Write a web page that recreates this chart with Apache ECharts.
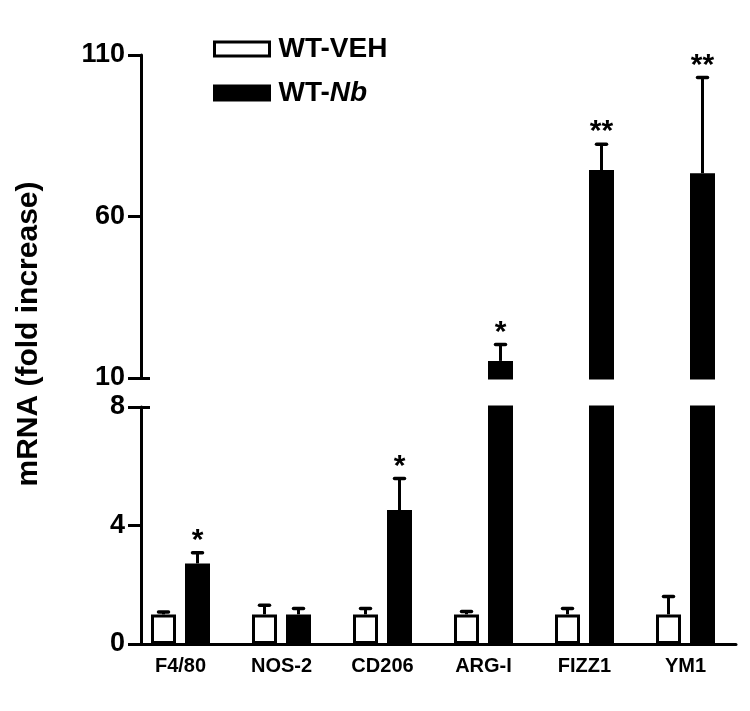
<!DOCTYPE html>
<html>
<head>
<meta charset="utf-8">
<script src="https://cdn.jsdelivr.net/npm/echarts@6/dist/echarts.min.js"></script>
<style>
  html, body { margin: 0; padding: 0; background: #fff; }
  #chart { width: 750px; height: 711px; }
</style>
</head>
<body>
<div id="chart"></div>
<script>
// ---- data ----
const categories = ['F4/80', 'NOS-2', 'CD206', 'ARG-I', 'FIZZ1', 'YM1'];
const seriesNames = ['WT-VEH', 'WT-Nb'];
const vehMean = [1.0, 1.0, 1.0, 1.0, 1.0, 1.0];
const vehErr  = [0.08, 0.31, 0.2, 0.1, 0.2, 0.6];
const nbMean  = [2.72, 1.0, 4.52, 15.3, 74.4, 73.4];
const nbErr   = [0.36, 0.2, 1.07, 5.1, 8.0, 29.6];
const vehSig  = ['', '', '', '', '', ''];
const nbSig   = ['*', '', '*', '*', '**', '**'];
const lowerTicks = [0, 4, 8];      // lower segment
const upperTicks = [10, 60, 110];  // upper segment

// ---- layout/style ----
const FONT = "'Liberation Sans', Arial, sans-serif";
const BAR_W = 25;
const BAR_GAP = 0.36;
const GRID_LEFT = 130, GRID_RIGHT = 14;
const AXIS_SHIFT = -11;
const lowerMin = lowerTicks[0], lowerMax = lowerTicks[lowerTicks.length - 1];
const upperMin = upperTicks[0], upperMax = upperTicks[upperTicks.length - 1];

const chart = echarts.init(document.getElementById('chart'), null, { renderer: 'canvas' });

function barSeries(name, data, grid, fill, keep) {
  return {
    type: 'bar', name: name,
    xAxisIndex: grid, yAxisIndex: grid === 0 ? 0 : 2,
    data: data.map(v => keep(v) ? v : '-'),
    barWidth: BAR_W, barGap: Math.round(BAR_GAP * 100) + '%',
    itemStyle: { color: fill, borderColor: '#000', borderWidth: 3 },
    clip: true, z: 2,
    emphasis: { disabled: true }
  };
}

function errSeries(means, errs, sigs, side, grid, keep) {
  const data = [];
  means.forEach((m, i) => { if (keep(m)) data.push([i, m, errs[i], sigs[i]]); });
  const off = side * BAR_W * (1 + BAR_GAP) / 2;
  return {
    type: 'custom', name: 'err' + side + grid,
    xAxisIndex: grid, yAxisIndex: grid === 0 ? 0 : 2,
    clip: false, z: 5, silent: true,
    data: data,
    encode: { x: 0, y: 1 },
    renderItem: function (params, api) {
      const idx = api.value(0), m = api.value(1), e = api.value(2);
      const sig = data[params.dataIndex][3];
      const base = api.coord([idx, m]);
      const top = api.coord([idx, m + e]);
      const x = base[0] + off;
      const children = [
        { type: 'line', shape: { x1: x, y1: base[1], x2: x, y2: top[1] },
          style: { stroke: '#000', lineWidth: 3 } },
        { type: 'line', shape: { x1: x - 5, y1: top[1], x2: x + 5, y2: top[1] },
          style: { stroke: '#000', lineWidth: 3.5, lineCap: 'round' } }
      ];
      if (sig) {
        children.push({ type: 'text', x: x, y: top[1] - 12,
          style: { text: sig, font: 'bold 30px ' + FONT, fill: '#000',
                   align: 'center', verticalAlign: 'middle' } });
      }
      return { type: 'group', children: children };
    }
  };
}

const keepLower = v => true;            // lower grid clips at its max
const keepUpper = v => v > upperMin;

const option = {
  animation: false,
  backgroundColor: '#fff',
  legend: {
    data: seriesNames,
    orient: 'vertical',
    left: 213, top: 35,
    padding: 0,
    icon: 'rect',
    itemWidth: 55, itemHeight: 14, itemGap: 16,
    itemStyle: { borderColor: '#000', borderWidth: 3 },
    selectedMode: false,
    textStyle: { fontFamily: FONT, fontWeight: 'bold', fontSize: 28, lineHeight: 28, color: '#000',
                 padding: [0, 0, 0, 4],
                 rich: { i: { fontFamily: FONT, fontWeight: 'bold', fontStyle: 'italic', fontSize: 28, color: '#000' } } },
    formatter: function (name) { return name === 'WT-Nb' ? 'WT-{i|Nb}' : name; }
  },
  graphic: [{
    type: 'text', x: 29, y: 334, rotation: Math.PI / 2,
    style: { text: 'mRNA (fold increase)', font: 'bold 30px ' + FONT, fill: '#000',
             align: 'center', verticalAlign: 'middle' }
  }],
  grid: [
    { left: GRID_LEFT, right: GRID_RIGHT, top: 407, height: 237 },
    { left: GRID_LEFT, right: GRID_RIGHT, top: 55, height: 323 }
  ],
  xAxis: [
    { type: 'category', gridIndex: 0, data: categories,
      axisLine: { show: true, lineStyle: { color: '#000', width: 3 } },
      axisTick: { show: false },
      axisLabel: { color: '#000', fontFamily: FONT, fontWeight: 'bold', fontSize: 20, margin: 12 } },
    { type: 'category', gridIndex: 1, data: categories, show: false }
  ],
  yAxis: [
    { type: 'value', gridIndex: 0, position: 'left', min: lowerMin, max: lowerMax, interval: lowerTicks[1] - lowerTicks[0],
      offset: AXIS_SHIFT,
      axisLine: { show: true, lineStyle: { color: '#000', width: 3 } },
      axisTick: { show: true, length: 13, lineStyle: { color: '#000', width: 3 } },
      axisLabel: { color: '#000', fontFamily: FONT, fontWeight: 'bold', fontSize: 27, margin: 16 },
      splitLine: { show: false } },
    { type: 'value', gridIndex: 0, position: 'left', min: lowerMin, max: lowerMax, offset: AXIS_SHIFT,
      axisLine: { show: false }, axisLabel: { show: false }, splitLine: { show: false },
      axisTick: { show: true, inside: true, length: 9, customValues: [lowerMax],
                  lineStyle: { color: '#000', width: 3 } } },
    { type: 'value', gridIndex: 1, position: 'left', min: upperMin, max: upperMax, interval: upperTicks[1] - upperTicks[0],
      offset: AXIS_SHIFT,
      axisLine: { show: true, lineStyle: { color: '#000', width: 3 } },
      axisTick: { show: true, length: 13, lineStyle: { color: '#000', width: 3 } },
      axisLabel: { color: '#000', fontFamily: FONT, fontWeight: 'bold', fontSize: 27, margin: 16 },
      splitLine: { show: false } },
    { type: 'value', gridIndex: 1, position: 'left', min: upperMin, max: upperMax, offset: AXIS_SHIFT,
      axisLine: { show: false }, axisLabel: { show: false }, splitLine: { show: false },
      axisTick: { show: true, inside: true, length: 9, customValues: [upperMin],
                  lineStyle: { color: '#000', width: 3 } } }
  ],
  series: [
    barSeries(seriesNames[0], vehMean, 0, '#fff', keepLower),
    barSeries(seriesNames[1], nbMean, 0, '#000', keepLower),
    barSeries(seriesNames[0], vehMean, 1, '#fff', keepUpper),
    barSeries(seriesNames[1], nbMean, 1, '#000', keepUpper),
    errSeries(vehMean, vehErr, vehSig, -1, 0, v => v < lowerMax),
    errSeries(nbMean, nbErr, nbSig, 1, 0, v => v < lowerMax),
    errSeries(vehMean, vehErr, vehSig, -1, 1, v => v > upperMin),
    errSeries(nbMean, nbErr, nbSig, 1, 1, v => v > upperMin)
  ]
};
chart.setOption(option);
</script>
</body>
</html>
